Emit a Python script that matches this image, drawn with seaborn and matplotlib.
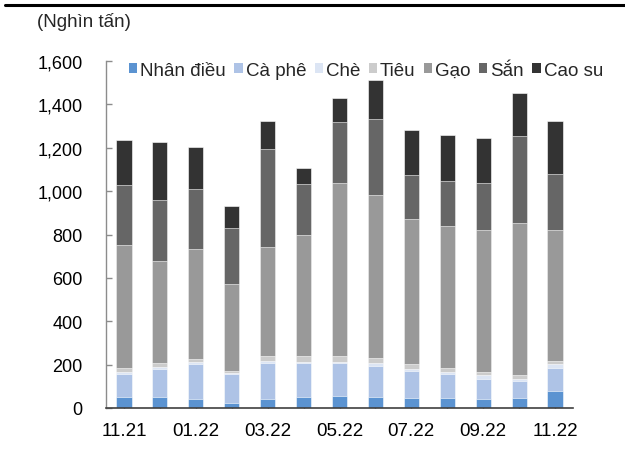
import matplotlib
matplotlib.use("Agg")
import matplotlib.pyplot as plt
import matplotlib.ticker as mticker
from matplotlib.lines import Line2D
from matplotlib.patches import Patch
import numpy as np
import pandas as pd
import seaborn as sns

months = ["11.21", "12.21", "01.22", "02.22", "03.22", "04.22", "05.22",
          "06.22", "07.22", "08.22", "09.22", "10.22", "11.22"]
series_names = ["Nhân điều", "Cà phê", "Chè", "Tiêu", "Gạo", "Sắn", "Cao su"]
nhan_dieu = [49, 49, 40, 21, 40, 49, 54, 49, 44, 45, 40, 44, 78]
ca_phe = [106, 129, 161, 134, 169, 157, 152, 143, 125, 110, 96, 79, 108]
che = [11, 11, 9, 6, 8, 7, 7, 14, 12, 11, 14, 12, 18]
tieu = [18, 18, 17, 11, 24, 27, 28, 26, 22, 20, 17, 18, 14]
gao = [567, 471, 506, 400, 501, 557, 798, 750, 668, 653, 652, 702, 604]
san = [277, 279, 277, 258, 452, 234, 280, 351, 202, 208, 218, 399, 257]
cao_su = [209, 269, 193, 101, 129, 77, 110, 179, 209, 210, 209, 200, 243]
colors = ["#5B93D1", "#AEC3E6", "#DCE5F4", "#CCCCCC", "#999999", "#666666", "#333333"]

values = [nhan_dieu, ca_phe, che, tieu, gao, san, cao_su]
cum = np.cumsum(np.array(values), axis=0)

sns.set_style("white")
plt.rcParams["font.family"] = ["Liberation Sans", "DejaVu Sans"]

fig = plt.figure(figsize=(6.25, 4.52), dpi=100)
ax = fig.add_axes([106 / 625, 1 - 409 / 452, (573 - 106) / 625, (409 - 62) / 452])

df = pd.DataFrame({"month": months})
for i in range(len(series_names) - 1, -1, -1):
    df["v"] = cum[i]
    sns.barplot(data=df, x="month", y="v", color=colors[i], order=months,
                width=0.42, saturation=1, ax=ax, edgecolor="white", linewidth=0.4,
                errorbar=None)

ax.set_ylim(0, 1600)
ax.set_xlim(-0.5, len(months) - 0.5)
ax.set_xlabel("")
ax.set_ylabel("")
ax.yaxis.set_major_locator(mticker.MultipleLocator(200))
ax.yaxis.set_major_formatter(mticker.FuncFormatter(lambda v, p: f"{int(v):,}"))
ax.set_xticks(range(len(months)))
ax.set_xticklabels([m if i % 2 == 0 else "" for i, m in enumerate(months)])
ax.set_xticks(np.arange(-0.5, len(months), 1.0), minor=True)
ax.tick_params(axis="x", which="both", direction="in", length=5, width=1,
               color="#404040", pad=10, labelsize=13.5, labelcolor="#000000")
ax.tick_params(axis="y", which="major", direction="in", length=4, width=1,
               color="#8c8c8c", pad=17, labelsize=13, labelcolor="#000000")
ax.tick_params(left=True, bottom=True)
for s in ["top", "right"]:
    ax.spines[s].set_visible(False)
ax.spines["left"].set_color("#8c8c8c")
ax.spines["left"].set_linewidth(1)
ax.spines["bottom"].set_color("#404040")
ax.spines["bottom"].set_linewidth(1.2)

handles = [Patch(facecolor=c, edgecolor="none") for c in colors]
fig.legend(handles, series_names, loc="center left", bbox_to_anchor=(129 / 625, 1 - 71 / 452),
           ncol=7, frameon=False, fontsize=13.5, handlelength=0.45, handleheight=0.45,
           handletextpad=0.15, columnspacing=0.45, borderpad=0, borderaxespad=0)

fig.text(37 / 625, 1 - 22 / 452, "(Nghìn tấn)", fontsize=13.5, va="center", ha="left")
fig.add_artist(Line2D([5 / 625, 1.0], [1 - 5.5 / 452] * 2, color="black", linewidth=2.2))

fig.savefig("out.png", dpi=100)
